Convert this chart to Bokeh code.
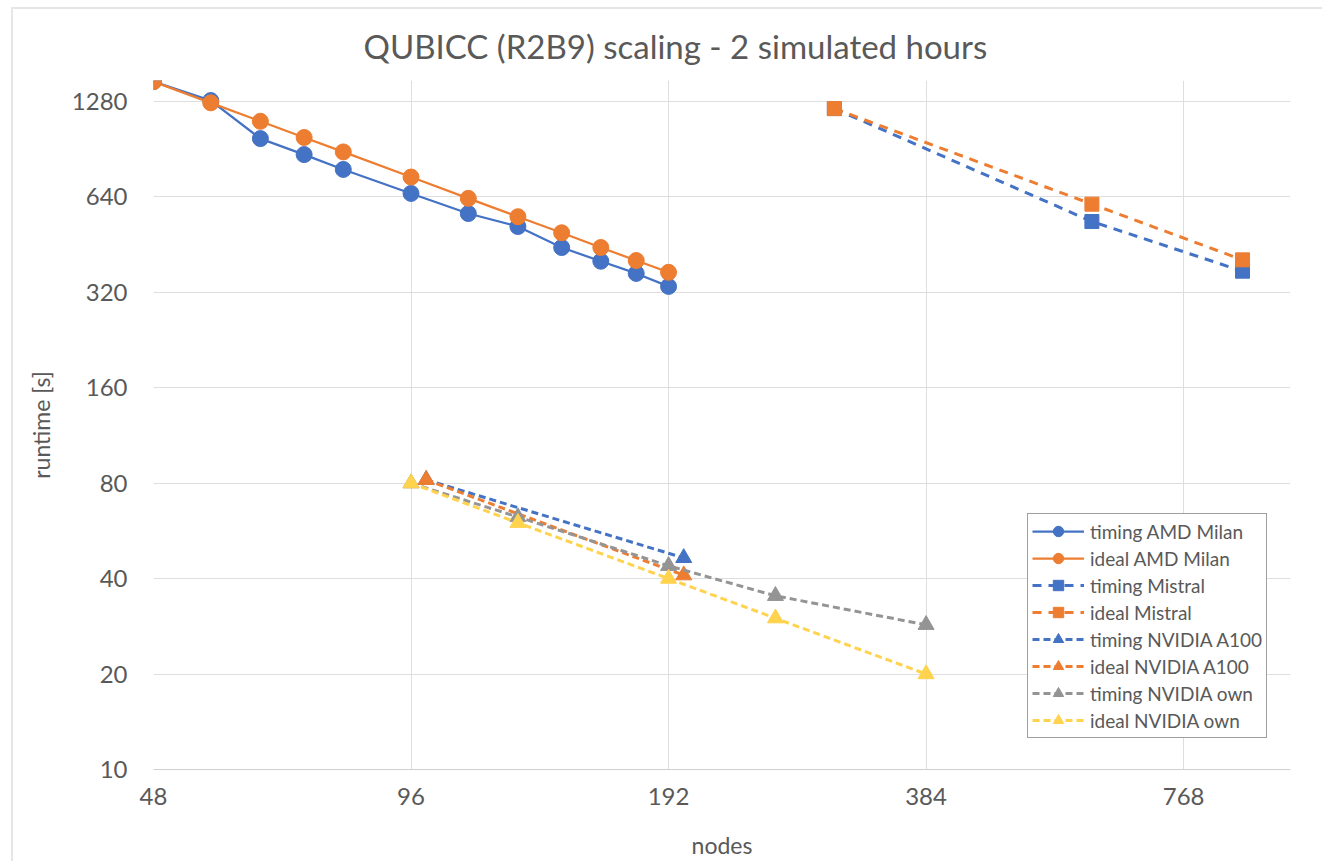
from bokeh.plotting import figure
from bokeh.models import Range1d, FixedTicker, NumeralTickFormatter, Legend, LegendItem
from bokeh.embed import file_html
from bokeh.resources import INLINE

# AMD Milan (CPU) runs
milan_nodes = [48, 56, 64, 72, 80, 96, 112, 128, 144, 160, 176, 192]
milan_timing = [1478, 1288, 977, 870, 781, 656, 567, 516, 443, 401, 367, 334]
milan_ideal = [1478, 1267, 1108, 985, 887, 739, 633, 554, 493, 443, 403, 370]

# Mistral runs
mistral_nodes = [300, 600, 900]
mistral_timing = [1215, 535, 373]
mistral_ideal = [1215, 607, 405]

# NVIDIA A100 runs
a100_nodes = [100, 200]
a100_timing = [82, 46.5]
a100_ideal = [82, 41]

# NVIDIA own runs
own_nodes = [96, 128, 192, 256, 384]
own_timing = [80, 62.6, 43.9, 35.3, 28.6]
own_ideal = [80, 60, 40, 30, 20]

x_ticks = [48, 96, 192, 384, 768]
y_ticks = [10, 20, 40, 80, 160, 320, 640, 1280]

BLUE = "#4472C4"
ORANGE = "#ED7D31"
GRAY = "#949494"
GOLD = "#FFD34E"
TEXT = "#595959"
FONT = "Lato"

p = figure(
    width=1311, height=854,
    x_axis_type="log", y_axis_type="log",
    x_range=Range1d(48, 1024), y_range=Range1d(10, 1490),
    output_backend="svg", toolbar_location=None,
    min_border_left=140, min_border_right=34, min_border_top=71, min_border_bottom=94,
    margin=(7, 0, 0, 11),
    styles={"border-top": "2px solid #e6e6e6", "border-left": "2px solid #e6e6e6"},
)
p.outline_line_color = None
p.background_fill_color = "white"
p.border_fill_color = "white"

p.title.text = "QUBICC (R2B9) scaling - 2 simulated hours"
p.title.align = "left"
p.title.offset = 210
p.title.text_font = FONT
p.title.text_font_size = "33px"
p.title.text_font_style = "normal"
p.title.text_color = TEXT
p.title.standoff = 29

for ax, ticks in ((p.xaxis, x_ticks), (p.yaxis, y_ticks)):
    ax.ticker = FixedTicker(ticks=ticks)
    ax.formatter = NumeralTickFormatter(format="0")
    ax.major_tick_line_color = None
    ax.minor_tick_line_color = None
    ax.major_label_text_font = FONT
    ax.major_label_text_font_size = "24px"
    ax.major_label_text_color = TEXT
    ax.axis_label_text_font = FONT
    ax.axis_label_text_font_size = "23px"
    ax.axis_label_text_font_style = "normal"
    ax.axis_label_text_color = TEXT

p.xaxis.axis_label = "nodes"
p.yaxis.axis_label = "runtime [s]"
p.xaxis.axis_line_color = "#cfcfcf"
p.yaxis.axis_line_color = None
p.xaxis.major_label_standoff = 12
p.yaxis.major_label_standoff = 20
p.xaxis.axis_label_standoff = 23
p.yaxis.axis_label_standoff = 14

p.xgrid.ticker = FixedTicker(ticks=x_ticks)
p.ygrid.ticker = FixedTicker(ticks=y_ticks)
p.grid.grid_line_color = "#dedede"
p.grid.grid_line_width = 1

items = []


def series(label, xs, ys, color, marker, size, dash="solid", width=2.25):
    ln = p.line(xs, ys, line_color=color, line_width=width, line_dash=dash)
    mk = p.scatter(xs, ys, marker=marker, size=size, fill_color=color, line_color=color)
    items.append(LegendItem(label=label, renderers=[ln, mk]))


series("timing AMD Milan", milan_nodes, milan_timing, BLUE, "circle", 16)
series("ideal AMD Milan", milan_nodes, milan_ideal, ORANGE, "circle", 16)
series("timing Mistral", mistral_nodes, mistral_timing, BLUE, "square", 14, "9 7", 3)
series("ideal Mistral", mistral_nodes, mistral_ideal, ORANGE, "square", 14, "9 7", 3)
series("timing NVIDIA A100", a100_nodes, a100_timing, BLUE, "triangle", 16, "7 4", 3)
series("ideal NVIDIA A100", a100_nodes, a100_ideal, ORANGE, "triangle", 16, "7 4", 3)
series("timing NVIDIA own", own_nodes, own_timing, GRAY, "triangle", 16, "7 4", 3)
series("ideal NVIDIA own", own_nodes, own_ideal, GOLD, "triangle", 16, "7 4", 3)

legend = Legend(items=items, location=(874, 31))
legend.label_text_font = FONT
legend.label_text_font_size = "19px"
legend.label_text_color = TEXT
legend.border_line_color = "#404040"
legend.border_line_width = 1
legend.background_fill_color = "white"
legend.background_fill_alpha = 1
legend.padding = 4
legend.spacing = 1
legend.margin = 0
legend.glyph_height = 26
legend.label_height = 26
legend.glyph_width = 52
legend.label_standoff = 6
p.add_layout(legend)

open("out.html", "w").write(file_html(p, INLINE))
